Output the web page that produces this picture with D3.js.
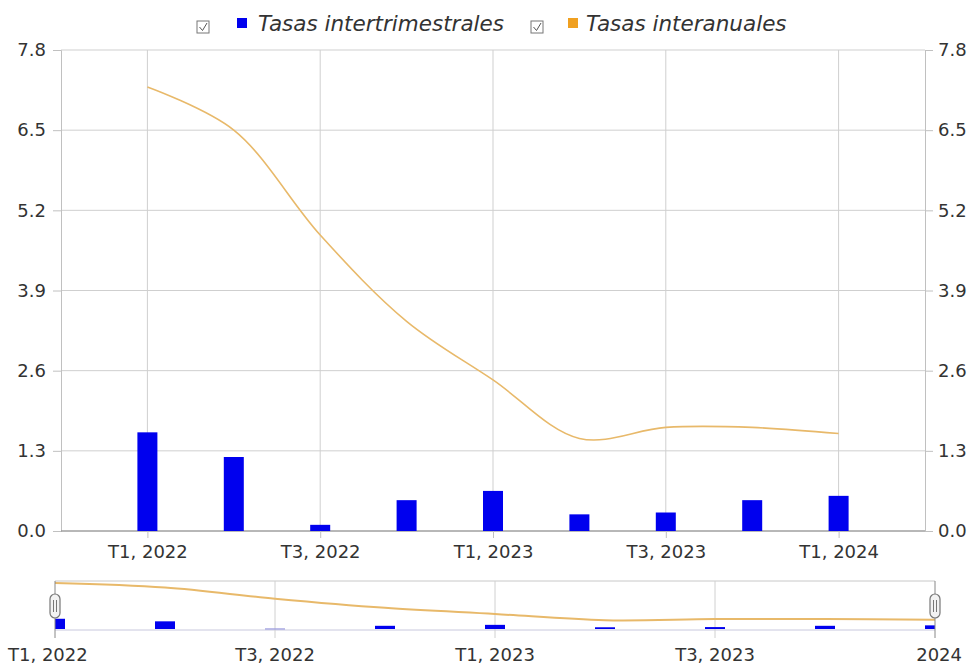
<!DOCTYPE html>
<html><head><meta charset="utf-8">
<script src="https://cdn.jsdelivr.net/npm/d3@7"></script>
<style>body{margin:0;background:#fff}svg{display:block}text{font-family:"DejaVu Sans",sans-serif;fill:#333}</style>
</head><body><svg id="c" width="971" height="670"></svg>
<script>
const quarters = ["T1, 2022","T2, 2022","T3, 2022","T4, 2022","T1, 2023","T2, 2023","T3, 2023","T4, 2023","T1, 2024"];
const intertrimestrales = [1.6, 1.2, 0.1, 0.5, 0.65, 0.27, 0.3, 0.5, 0.57];
const interanuales = [7.2, 6.5, 4.8, 3.4, 2.45, 1.5, 1.68, 1.68, 1.58];
const yTicks = [0.0, 1.3, 2.6, 3.9, 5.2, 6.5, 7.8];
const xTickIdx = [0, 2, 4, 6, 8];
const navLabels = ["T1, 2022","T3, 2022","T1, 2023","T3, 2023","2024"];
const seriesNames = ["Tasas intertrimestrales","Tasas interanuales"];
const colors = {bar:"#0000ee", line:"#e8b96a", legendLine:"#f0a020"};

const svg = d3.select("#c");
const L = 61, R = 925, T = 50, B = 531;
const x = d3.scaleLinear().domain([-1, 9]).range([L, R]);
const y = d3.scaleLinear().domain([0, 7.8]).range([B, T]);
const idx = quarters.map((d,i)=>i);

// gridlines
const g = svg.append("g");
g.selectAll(".hg").data(yTicks).join("line")
  .attr("x1",L).attr("x2",R).attr("y1",d=>y(d)).attr("y2",d=>y(d))
  .attr("stroke","#cfcfcf").attr("stroke-width",1);
g.selectAll(".vg").data(xTickIdx).join("line")
  .attr("x1",d=>x(d)).attr("x2",d=>x(d)).attr("y1",T).attr("y2",B)
  .attr("stroke","#cfcfcf").attr("stroke-width",1);

// axes
const fmt = d3.format(".1f");
const la = svg.append("g").attr("transform",`translate(${L},0)`)
  .call(d3.axisLeft(y).tickValues(yTicks).tickFormat(fmt).tickSize(8).tickPadding(7));
const ra = svg.append("g").attr("transform",`translate(${R},0)`)
  .call(d3.axisRight(y).tickValues(yTicks).tickFormat(fmt).tickSize(8).tickPadding(5));
const ba = svg.append("g").attr("transform",`translate(0,${B})`)
  .call(d3.axisBottom(x).tickValues(xTickIdx).tickFormat(i=>quarters[i]).tickSize(7).tickPadding(7));
[la,ra,ba].forEach(a=>{
  a.select(".domain").attr("stroke","#c0c0c0");
  a.selectAll(".tick line").attr("stroke","#c0c0c0");
  a.selectAll("text").attr("font-size",18).attr("fill","#333").attr("font-family","DejaVu Sans");
});
ba.select(".domain").attr("stroke","#888").attr("d",`M${L},0H${R}`);

// bars
const bw = 20;
svg.append("g").selectAll("rect").data(idx).join("rect")
  .attr("x",i=>x(i)-bw/2).attr("width",bw)
  .attr("y",i=>y(intertrimestrales[i])).attr("height",i=>B-y(intertrimestrales[i]))
  .attr("fill",colors.bar);

// line
const line = d3.line().x(i=>x(i)).y(i=>y(interanuales[i])).curve(d3.curveCatmullRom.alpha(0.5));
svg.append("path").attr("d",line(idx)).attr("fill","none").attr("stroke",colors.line).attr("stroke-width",1.6);

// legend
const lg = svg.append("g");
function checkbox(cx){
  lg.append("rect").attr("x",cx).attr("y",21).attr("width",12).attr("height",12).attr("fill","#fff").attr("stroke","#777");
  lg.append("path").attr("d",`M${cx+2.5},${27}L${cx+5.5},${30.5}L${cx+10},${23}`).attr("fill","none").attr("stroke","#555").attr("stroke-width",1);
}
checkbox(197);
lg.append("rect").attr("x",237).attr("y",18).attr("width",10).attr("height",10).attr("fill",colors.bar);
lg.append("text").attr("x",258).attr("y",31).attr("font-size",21.5).attr("font-style","italic").attr("fill","#222").text(seriesNames[0]);
checkbox(531);
lg.append("rect").attr("x",568).attr("y",18).attr("width",10).attr("height",10).attr("fill",colors.legendLine);
lg.append("text").attr("x",586).attr("y",31).attr("font-size",21.5).attr("font-style","italic").attr("fill","#222").text(seriesNames[1]);

// navigator
const NL = 55, NR = 935, NT = 581, NB = 630;
const nx = d3.scaleLinear().domain([0, 8]).range([NL, NR]);
const nyL = d3.scaleLinear().domain([0, 7.2]).range([NB, NT+2]);
const nyB = d3.scaleLinear().domain([0, 7.2]).range([NB-1, NT+2]);
const ng = svg.append("g");
ng.append("line").attr("x1",NL).attr("x2",NR).attr("y1",NT).attr("y2",NT).attr("stroke","#c8c8c8");
ng.append("line").attr("x1",NL).attr("x2",NR).attr("y1",NB).attr("y2",NB).attr("stroke","#c8c8dd");
ng.selectAll(".nv").data([2,4,6]).join("line")
  .attr("x1",d=>nx(d)).attr("x2",d=>nx(d)).attr("y1",NT).attr("y2",NB+8).attr("stroke","#d0d0d0");
ng.append("clipPath").attr("id","nclip").append("rect").attr("x",NL).attr("y",NT).attr("width",NR-NL).attr("height",NB-NT);
const nb = ng.append("g").attr("clip-path","url(#nclip)");
nb.selectAll("rect").data(idx).join("rect")
  .attr("x",i=>nx(i)-10).attr("width",20)
  .attr("y",i=>nyB(intertrimestrales[i])).attr("height",i=>Math.max(1.2,NB-1-nyB(intertrimestrales[i])))
  .attr("fill",i=>intertrimestrales[i]<0.2?"#9999dd":colors.bar);
const nline = d3.line().x(i=>nx(i)).y(i=>nyL(interanuales[i])).curve(d3.curveCatmullRom.alpha(0.5));
nb.append("path").attr("d",nline(idx)).attr("fill","none").attr("stroke",colors.line).attr("stroke-width",2);
[NL,NR].forEach(hx=>{
  ng.append("line").attr("x1",hx).attr("x2",hx).attr("y1",NT).attr("y2",NB+8).attr("stroke","#888");
  ng.append("rect").attr("x",hx-5).attr("y",594).attr("width",10).attr("height",24).attr("rx",5)
    .attr("fill","#f2f2f2").attr("stroke","#777").attr("stroke-width",1.2);
  ng.append("line").attr("x1",hx-1.5).attr("x2",hx-1.5).attr("y1",600).attr("y2",612).attr("stroke","#777");
  ng.append("line").attr("x1",hx+1.5).attr("x2",hx+1.5).attr("y1",600).attr("y2",612).attr("stroke","#777");
});
ng.selectAll(".nl").data(navLabels).join("text")
  .attr("x",(d,i)=>i===0?8:i===4?962:nx(i*2)).attr("y",661).attr("font-size",18)
  .attr("text-anchor",(d,i)=>i===0?"start":i===4?"end":"middle")
  .text(d=>d);
</script></body></html>
